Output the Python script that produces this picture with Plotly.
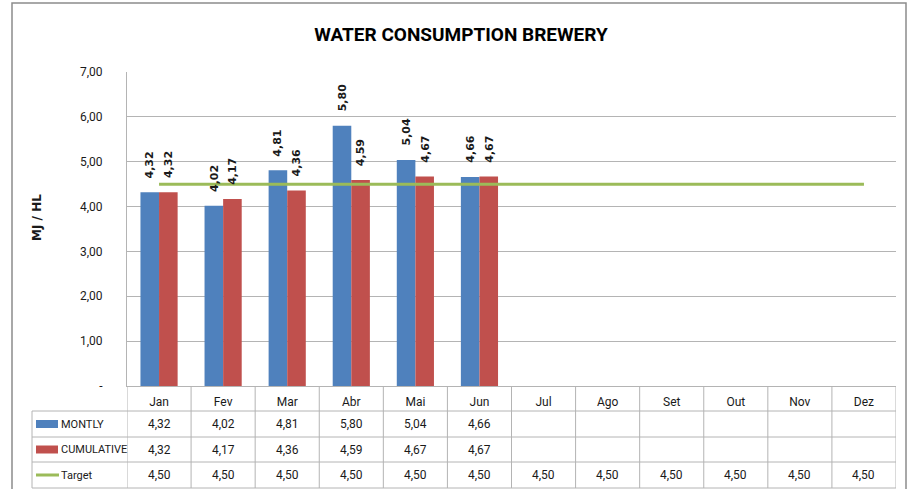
import plotly.graph_objects as go

months = ["Jan", "Fev", "Mar", "Abr", "Mai", "Jun", "Jul", "Ago", "Set", "Out", "Nov", "Dez"]
montly = [4.32, 4.02, 4.81, 5.80, 5.04, 4.66, None, None, None, None, None, None]
cumulative = [4.32, 4.17, 4.36, 4.59, 4.67, 4.67, None, None, None, None, None, None]
target = [4.50] * 12
y_tickvals = [0, 1, 2, 3, 4, 5, 6, 7]
y_ticktext = ["-", "1,00", "2,00", "3,00", "4,00", "5,00", "6,00", "7,00"]
series_names = ["MONTLY", "CUMULATIVE", "Target"]

BLUE, RED, GREEN = "#4F81BD", "#C0504D", "#9BBB59"
GRID = "#B4B4B4"
TXT = "#1a1a1a"
NARROW = "Liberation Sans Narrow, Arial Narrow, Roboto, Liberation Sans, sans-serif"
BOLDF = "DejaVu Sans, Verdana, sans-serif"

W, H = 913, 489
L, R, T, B = 127, 896, 72, 386
BARGAP = 0.42


def fx(px):
    return (px - L) / (R - L)


def fy(py):
    return (B - py) / (B - T)


def fmt(v):
    return "" if v is None else f"{v:.2f}".replace(".", ",")


idx = list(range(len(months)))
fig = go.Figure()
fig.add_trace(go.Bar(x=idx, y=montly, name=series_names[0], marker_color=BLUE,
                     marker_line_width=0))
fig.add_trace(go.Bar(x=idx, y=cumulative, name=series_names[1], marker_color=RED,
                     marker_line_width=0))
fig.add_trace(go.Scatter(x=idx, y=target, name=series_names[2], mode="lines",
                         line=dict(color=GREEN, width=3)))

shapes = []
annotations = []

# data labels (rotated) above bars
off = (1 - BARGAP) / 4
for series, shift in ((montly, -off), (cumulative, off)):
    for i, v in enumerate(series):
        if v is None:
            continue
        annotations.append(dict(x=i + shift, y=v, xref="x", yref="y", text=fmt(v),
                                textangle=-90, showarrow=False, yanchor="bottom",
                                xanchor="center", yshift=12,
                                font=dict(family=BOLDF, size=11, color=TXT, weight="bold")))

# data table grid
rows_y = [411, 437, 462, 488]
for yy in rows_y:
    shapes.append(dict(type="line", xref="paper", yref="paper", x0=fx(32), x1=fx(R),
                       y0=fy(yy), y1=fy(yy), line=dict(color=GRID, width=1)))
for i in range(len(months) + 1):
    shapes.append(dict(type="line", xref="x", yref="paper", x0=i - 0.5, x1=i - 0.5,
                       y0=fy(386), y1=fy(488), line=dict(color=GRID, width=1)))
shapes.append(dict(type="line", xref="paper", yref="paper", x0=fx(32), x1=fx(32),
                   y0=fy(411), y1=fy(488), line=dict(color=GRID, width=1)))

# table values
row_centers = [424, 449.5, 475]
for series, yc in zip((montly, cumulative, target), row_centers):
    for i, v in enumerate(series):
        if v is None:
            continue
        annotations.append(dict(x=i, y=fy(yc), xref="x", yref="paper", text=fmt(v),
                                showarrow=False, xanchor="center", yanchor="middle",
                                font=dict(family=NARROW, size=12, color=TXT)))

# legend keys in table
for name, yc, col in zip(series_names, row_centers, (BLUE, RED, GREEN)):
    if name == "Target":
        shapes.append(dict(type="line", xref="paper", yref="paper", x0=fx(36), x1=fx(59),
                           y0=fy(yc), y1=fy(yc), line=dict(color=col, width=3)))
    else:
        shapes.append(dict(type="rect", xref="paper", yref="paper", x0=fx(36), x1=fx(58),
                           y0=fy(yc - 4), y1=fy(yc + 4), fillcolor=col, line=dict(width=0)))
    annotations.append(dict(x=fx(59), y=fy(yc), xref="paper", yref="paper", text=name,
                            showarrow=False, xanchor="left", yanchor="middle",
                            font=dict(family=NARROW, size=11, color=TXT)))

# y axis title
annotations.append(dict(x=fx(37), y=fy(218), xref="paper", yref="paper", text="MJ / HL",
                        textangle=-90, showarrow=False, xanchor="center", yanchor="middle",
                        font=dict(family=BOLDF, size=12, color=TXT, weight="bold")))

# outer chart frame
shapes.append(dict(type="rect", xref="paper", yref="paper", x0=fx(12), x1=fx(906),
                   y0=fy(495), y1=fy(3), line=dict(color="#8C8C8C", width=1.5),
                   fillcolor="rgba(0,0,0,0)", layer="below"))

fig.update_layout(
    width=W, height=H,
    margin=dict(l=L, r=W - R, t=T, b=H - B, pad=0),
    paper_bgcolor="white", plot_bgcolor="white",
    barmode="group", bargap=BARGAP, bargroupgap=0,
    showlegend=False,
    title=dict(text="WATER CONSUMPTION BREWERY", x=461 / W, xanchor="center",
               y=1 - 34 / H, yanchor="middle",
               font=dict(family=NARROW, size=19, color="#000", weight="bold")),
    xaxis=dict(tickvals=idx, ticktext=months, range=[-0.5, 11.5], showgrid=False,
               showline=True, linecolor=GRID, linewidth=1, ticks="", zeroline=False,
               tickfont=dict(family=NARROW, size=12, color=TXT), ticklabelstandoff=5,
               fixedrange=True),
    yaxis=dict(range=[0, 7], tickvals=y_tickvals, ticktext=y_ticktext, showgrid=True,
               gridcolor=GRID, gridwidth=1, showline=True, linecolor=GRID, zeroline=False,
               ticks="", tickfont=dict(family=NARROW, size=12, color=TXT),
               ticklabelstandoff=21, fixedrange=True),
    shapes=shapes, annotations=annotations,
)

fig.write_html("out.html", config={"displayModeBar": False},
               post_script="document.body.style.margin='0';"
                           "document.body.style.overflow='hidden';")
